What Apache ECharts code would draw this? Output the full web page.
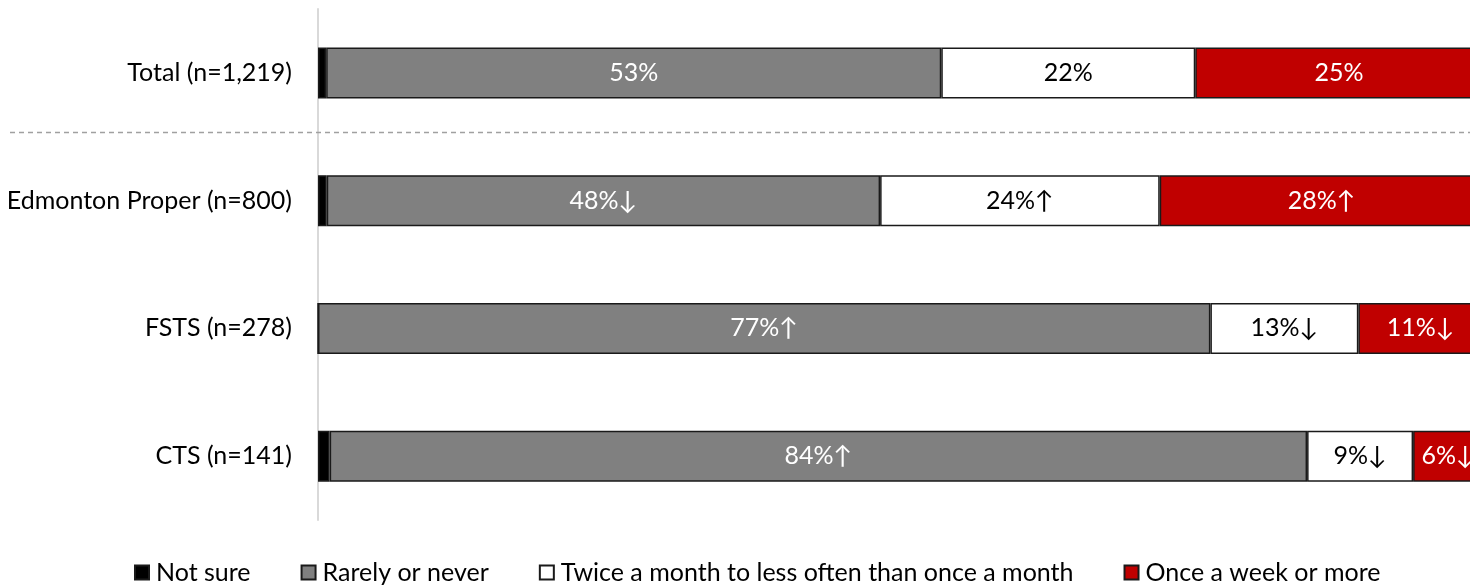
<!DOCTYPE html>
<html>
<head>
<meta charset="utf-8">
<script src="https://cdn.jsdelivr.net/npm/echarts@6/dist/echarts.min.js"></script>
<style>
html,body{margin:0;padding:0;background:#fff;overflow:hidden;}
#chart{width:1483px;height:585px;}
</style>
</head>
<body>
<div id="chart"></div>
<script>
const categories = ['Total (n=1,219)', 'Edmonton Proper (n=800)', 'FSTS (n=278)', 'CTS (n=141)'];
const seriesNames = ['Not sure', 'Rarely or never', 'Twice a month to less often than once a month', 'Once a week or more'];
const notSure = [0.7, 0.75, 0, 1.0];
const rarely = [52.8, 47.5, 76.6, 83.9];
const twice = [21.8, 24.0, 12.7, 9.1];
const weekly = [24.7, 27.8, 10.7, 6.0];
const rarelyLabels = ['53%', '48%↓', '77%↑', '84%↑'];
const twiceLabels = ['22%', '24%↑', '13%↓', '9%↓'];
const weeklyLabels = ['25%', '28%↑', '11%↓', '6%↓'];

const FONT = 'Lato';
const FS = 25;

const chart = echarts.init(document.getElementById('chart'), null, {renderer: 'canvas'});

function seg(name, data, color, labels, labelColor) {
  return {
    name: name,
    type: 'bar',
    stack: 'all',
    data: data,
    barWidth: 51,
    itemStyle: {color: color, borderColor: '#1a1a1a', borderWidth: 1.5},
    label: labels ? {
      show: true,
      position: 'inside',
      color: labelColor,
      fontFamily: FONT,
      fontSize: FS,
      formatter: p => labels[p.dataIndex]
    } : {show: false},
    emphasis: {disabled: true},
    animation: false
  };
}

const option = {
  animation: false,
  grid: {left: 318, right: 0, top: 9, bottom: 65, containLabel: false},
  xAxis: {type: 'value', min: 0, max: 100, show: false},
  yAxis: {
    type: 'category',
    data: categories,
    inverse: true,
    axisLine: {show: true, lineStyle: {color: '#d9d9d9', width: 2}},
    axisTick: {show: false},
    axisLabel: {color: '#000', fontFamily: FONT, fontSize: FS, margin: 26}
  },
  legend: {
    data: seriesNames,
    left: 134,
    top: 560,
    padding: 0,
    icon: 'rect',
    itemWidth: 14,
    itemHeight: 14,
    itemGap: 50,
    textStyle: {color: '#000', fontFamily: FONT, fontSize: FS, padding: [0, 0, 0, 2]}
  },
  series: [
    seg(seriesNames[0], notSure, '#000000', null, null),
    seg(seriesNames[1], rarely, '#808080', rarelyLabels, '#fff'),
    seg(seriesNames[2], twice, '#ffffff', twiceLabels, '#000'),
    seg(seriesNames[3], weekly, '#c00000', weeklyLabels, '#fff')
  ]
};
chart.setOption(option);

// dashed separator between "Total" and the sub-groups, positioned from the axis
const y0 = chart.convertToPixel({yAxisIndex: 0}, categories[0]);
const y1 = chart.convertToPixel({yAxisIndex: 0}, categories[1]);
const ySep = Math.round(y0 + (y1 - y0) * 0.46) + 0.5;
chart.setOption({
  graphic: [{
    type: 'line',
    shape: {x1: 10, y1: ySep, x2: 1483, y2: ySep},
    style: {stroke: '#a0a0a0', lineWidth: 1.3, lineDash: [5, 4]},
    silent: true,
    z: 1
  }]
});
</script>
</body>
</html>
